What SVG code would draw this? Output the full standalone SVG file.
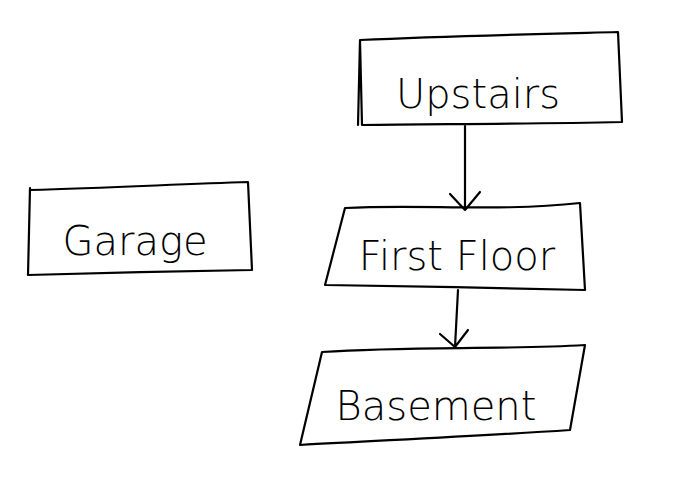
<svg xmlns="http://www.w3.org/2000/svg" width="696" height="496" viewBox="0 0 696 496">
<style>
.s{fill:none;stroke:#000;stroke-width:2.2;stroke-linecap:round;stroke-linejoin:round}
.t{font-family:"DejaVu Sans","Liberation Sans",sans-serif;font-size:40px;fill:#000;text-anchor:middle;font-weight:200}
</style>
<rect width="696" height="496" fill="#fff"/>
<g id="upstairs">
<path class="s" d="M360,40 C450,36 540,34 618,32 L622,122 C530,124 440,124 362,125 Z M360,40 L358,125"/>
<text class="t" x="478" y="108">Upstairs</text>
</g>
<g id="garage">
<path class="s" d="M30,190 C110,188 180,184 248,182 L252,270 C180,271 100,273 28,275 L30,188"/>
<text class="t" x="135" y="255">Garage</text>
</g>
<g id="first-floor">
<path class="s" d="M345,208 C420,204 500,212 580,203 L585,290 C500,288 410,286 325,285 Z"/>
<text class="t" x="457" y="270" font-size="38">First Floor</text>
</g>
<g id="basement">
<path class="s" d="M322,352 C410,346 500,350 585,345 L570,430 C480,436 390,440 300,445 Z"/>
<text class="t" x="436" y="420">Basement</text>
</g>
<g id="connectors">
<path class="s" d="M465,126 L465,210 M450,194 L465,210 L480,192"/>
<path class="s" d="M458,290 L455,347 M440,334 L455,347 L468,330"/>
</g>
</svg>
